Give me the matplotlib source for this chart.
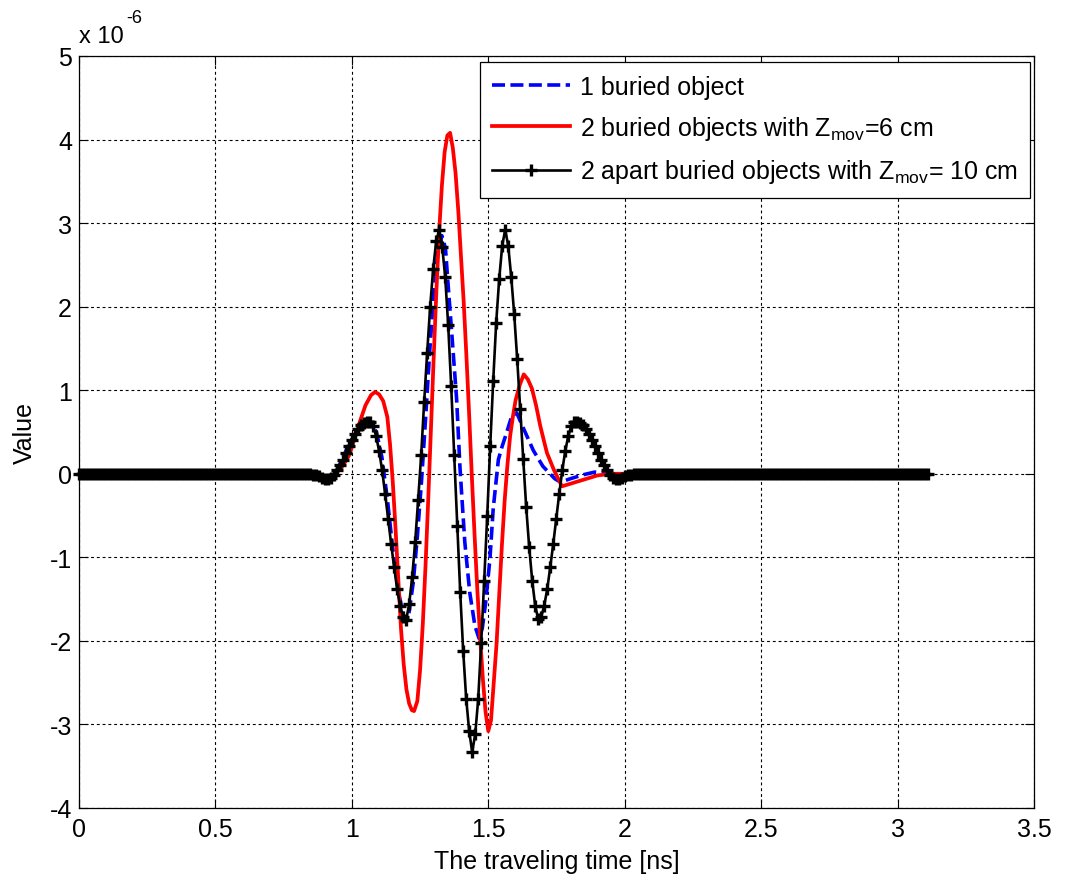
import numpy as np
import matplotlib
matplotlib.use("Agg")
import matplotlib.pyplot as plt

plt.rcParams['font.family'] = ['Liberation Sans', 'DejaVu Sans']
plt.rcParams['mathtext.fontset'] = 'custom'
plt.rcParams['mathtext.rm'] = 'Liberation Sans'
plt.rcParams['mathtext.it'] = 'Liberation Sans'

# ---- data (values in units of 1e-6) ----
# 2 apart buried objects, Z_mov = 10 cm: sampled every 0.011 ns from 0 to ~3.12 ns
black_dt = 0.011
black_count = 284
black_pulse_start = 78          # sample index where the pulse begins
black_pulse = [
    -0.01, -0.02, -0.03, -0.05, -0.06, -0.06, -0.05, -0.01,
    0.04, 0.10, 0.17, 0.25, 0.33, 0.41, 0.48, 0.54, 0.58, 0.61, 0.62, 0.62,
    0.57, 0.45, 0.27, 0.04, -0.24, -0.54, -0.84, -1.12, -1.38, -1.58, -1.71, -1.75,
    -1.56, -1.24, -0.82, -0.31, 0.22, 0.86, 1.45, 2.00, 2.45, 2.78, 2.92,
    2.72, 2.36, 1.78, 1.05, 0.22, -0.63, -1.41, -2.12, -2.69, -3.08, -3.33,
    -3.12, -2.70, -2.02, -1.28, -0.51, 0.33, 1.11, 1.81, 2.33, 2.73, 2.92,
    2.73, 2.36, 1.91, 1.37, 0.77, 0.18, -0.40, -0.88, -1.28, -1.58, -1.74,
    -1.71, -1.58, -1.38, -1.12, -0.84, -0.54, -0.24, 0.04, 0.27, 0.45, 0.57, 0.62,
    0.62, 0.61, 0.58, 0.54, 0.48, 0.41, 0.33, 0.25, 0.17, 0.10, 0.04, -0.01,
    -0.05, -0.06, -0.06, -0.05, -0.03, -0.02, -0.01, 0.00,
]

# 1 buried object
blue_time = [0.00, 0.85, 0.90, 0.935, 0.96, 0.99, 1.02, 1.045, 1.067, 1.09,
             1.11, 1.13, 1.15, 1.17, 1.19, 1.20, 1.21, 1.225, 1.24, 1.255,
             1.27, 1.285, 1.30, 1.315, 1.33, 1.343, 1.353, 1.366, 1.384, 1.396,
             1.402, 1.414, 1.432, 1.451, 1.466, 1.478, 1.49, 1.506, 1.518, 1.537,
             1.55, 1.567, 1.585, 1.604, 1.628, 1.665, 1.70, 1.744, 1.765, 1.80,
             1.85, 1.89, 1.95, 2.00, 3.11]
blue_value = [0.0, 0.0, -0.05, -0.01, 0.14, 0.36, 0.52, 0.60, 0.62, 0.50,
              0.20, -0.30, -0.90, -1.40, -1.72, -1.76, -1.65, -1.30, -0.75, -0.10,
              0.65, 1.45, 2.15, 2.65, 2.85, 2.70, 2.25, 1.69, 0.89, 0.09,
              -0.22, -0.82, -1.42, -1.82, -1.97, -1.85, -1.55, -1.02, -0.42, 0.17,
              0.32, 0.49, 0.68, 0.73, 0.55, 0.28, 0.09, -0.06, -0.10, -0.06,
              -0.01, 0.02, 0.0, 0.0, 0.0]

# 2 buried objects, Z_mov = 6 cm
red_time = [0.00, 0.85, 0.89, 0.93, 0.96, 0.99, 1.01, 1.03, 1.05, 1.07,
            1.085, 1.10, 1.115, 1.13, 1.14, 1.15, 1.16, 1.17, 1.18, 1.19,
            1.20, 1.21, 1.22, 1.228, 1.24, 1.25, 1.26, 1.27, 1.28, 1.29,
            1.30, 1.31, 1.32, 1.33, 1.34, 1.35, 1.36, 1.37, 1.38, 1.39,
            1.40, 1.41, 1.42, 1.43, 1.44, 1.45, 1.46, 1.47, 1.48, 1.49,
            1.50, 1.51, 1.52, 1.53, 1.54, 1.55, 1.56, 1.57, 1.58, 1.59,
            1.60, 1.615, 1.63, 1.645, 1.66, 1.675, 1.69, 1.705, 1.715, 1.74,
            1.77, 1.83, 1.90, 1.95, 2.00, 3.11]
red_value = [0.0, 0.0, -0.04, -0.02, 0.06, 0.22, 0.42, 0.63, 0.82, 0.94,
             0.98, 0.95, 0.87, 0.68, 0.35, -0.10, -0.65, -1.25, -1.85, -2.28,
             -2.58, -2.75, -2.83, -2.84, -2.72, -2.35, -1.80, -1.10, -0.30, 0.55,
             1.40, 2.20, 2.90, 3.45, 3.85, 4.05, 4.08, 3.90, 3.60, 3.15,
             2.60, 2.05, 1.40, 0.70, -0.05, -0.75, -1.40, -1.95, -2.45, -2.85,
             -3.08, -2.95, -2.50, -2.05, -1.45, -0.85, -0.32, 0.10, 0.45, 0.68,
             0.88, 1.06, 1.19, 1.13, 1.02, 0.82, 0.58, 0.38, 0.25, 0.05,
             -0.15, -0.09, -0.02, 0.0, 0.0, 0.0]

labels = ['1 buried object',
          r'2 buried objects with Z$_{\mathrm{mov}}$=6 cm',
          r'2 apart buried objects with Z$_{\mathrm{mov}}$= 10 cm']
x_ticks = [0, 0.5, 1, 1.5, 2, 2.5, 3, 3.5]
y_ticks = [-4, -3, -2, -1, 0, 1, 2, 3, 4, 5]

# ---- build black series on its sample grid ----
black_time = np.arange(black_count) * black_dt
black_value = np.zeros(black_count)
black_value[black_pulse_start:black_pulse_start + len(black_pulse)] = black_pulse

# ---- figure ----
W, H = 1065, 879
fig = plt.figure(figsize=(W / 100, H / 100), dpi=100)
ax = fig.add_axes([79 / W, 1 - 809 / H, (1034 - 79) / W, (809 - 57) / H])

FS = 18
ax.plot(blue_time, blue_value, color='#0000ff', lw=2.6, dashes=(3.6, 1.5),
        label=labels[0], zorder=3)
ax.plot(red_time, red_value, color='#ff0000', lw=2.7, label=labels[1], zorder=4)
ax.plot(black_time, black_value, color='black', lw=1.9, marker='+', ms=9,
        mew=2.4, label=labels[2], zorder=5, clip_on=False)

ax.set_xlim(0, 3.5)
ax.set_ylim(-4, 5)
ax.set_xticks(x_ticks)
ax.set_xticklabels([f'{v:g}' for v in x_ticks])
ax.set_yticks(y_ticks)
ax.set_yticklabels([f'{v:g}' for v in y_ticks])
ax.tick_params(direction='in', top=True, right=True, length=6.5, width=0.8,
               labelsize=FS)
ax.tick_params(axis='x', pad=6.5)
ax.tick_params(axis='y', pad=5)
ax.grid(True, color='black', lw=0.8, linestyle=(0, (2.6, 2.6)))
for s in ax.spines.values():
    s.set_linewidth(0.9)

ax.set_xlabel('The traveling time [ns]', fontsize=FS)
ax.xaxis.set_label_coords(0.5, -0.054)
ax.set_ylabel('Value', fontsize=FS)
ax.yaxis.set_label_coords(-0.044, 0.5)

# scale factor above the y axis
fig.text(79 / W, 1 - 43 / H, 'x 10', fontsize=17, ha='left', va='baseline')
fig.text(126 / W, 1 - 23 / H, '-6', fontsize=13, ha='left', va='baseline')

leg = ax.legend(loc='upper right', bbox_to_anchor=(1030 / W, 1 - 63 / H),
                bbox_transform=fig.transFigure,
                borderaxespad=0, fontsize=FS, handlelength=3.1,
                handletextpad=0.4, labelspacing=0.62, borderpad=0.5,
                fancybox=False, framealpha=1, edgecolor='black')
leg.get_frame().set_linewidth(0.9)

fig.savefig('out.png', dpi=100, facecolor='white')
